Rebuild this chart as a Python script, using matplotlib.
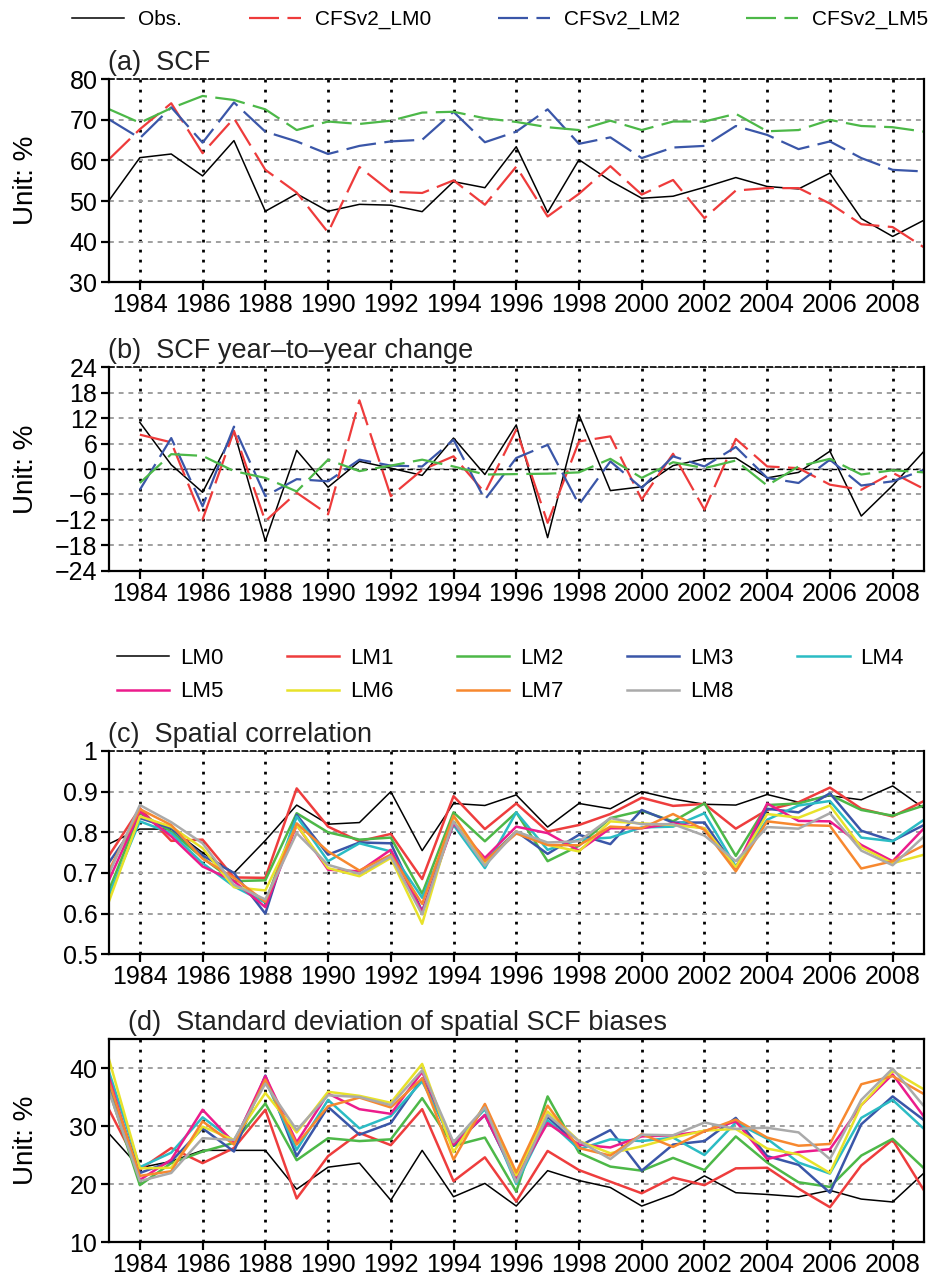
import numpy as np
import matplotlib
matplotlib.use("Agg")
import matplotlib.pyplot as plt

plt.rcParams['font.family'] = ['Liberation Sans', 'DejaVu Sans']

# ---- data ----
years = list(range(1983, 2010))
years_b = years[1:]

# (a) SCF (%)
scf_obs = [50.0, 60.7, 61.6, 56.2, 64.9, 47.5, 51.8, 47.5, 49.2, 49.0, 47.4, 54.8, 53.3, 63.4,
           47.2, 60.2, 55.0, 50.7, 51.2, 53.4, 55.8, 53.6, 53.0, 56.9, 45.7, 41.3, 45.3]
scf_lm0 = [60.2, 67.7, 74.1, 61.8, 70.4, 57.7, 52.1, 42.3, 58.4, 52.3, 52.0, 55.1, 49.1, 58.5,
           46.2, 51.8, 58.6, 51.6, 55.2, 45.8, 52.6, 53.2, 53.2, 49.4, 44.3, 43.6, 38.6]
scf_lm2 = [70.2, 65.5, 73.1, 64.4, 74.3, 67.1, 64.7, 61.6, 63.6, 64.7, 65.1, 72.0, 64.5, 67.1,
           72.6, 64.1, 65.7, 60.6, 63.2, 63.6, 68.5, 66.3, 62.8, 64.7, 60.6, 57.7, 57.3]
scf_lm5 = [72.7, 69.3, 72.9, 75.9, 74.9, 72.6, 67.5, 69.6, 69.0, 69.8, 71.8, 72.0, 70.4, 69.5,
           68.2, 67.5, 69.8, 67.5, 69.6, 69.6, 71.5, 67.2, 67.5, 70.0, 68.5, 68.2, 67.1]

# (b) year-to-year change (%), 1984-2009
chg_obs = [11.0, 1.0, -5.5, 8.9, -17.0, 4.4, -4.3, 1.8, 0.2, -1.5, 7.3, -1.3, 10.4,
           -16.2, 12.8, -5.1, -4.2, 0.8, 2.4, 2.6, -2.1, -0.8, 4.2, -11.1, -3.9, 4.2]
chg_lm0 = [8.1, 6.3, -11.9, 9.0, -12.3, -5.6, -10.7, 16.2, -6.4, -0.2, 3.0, -5.6, 9.3,
           -12.7, 6.5, 7.7, -7.2, 3.6, -9.6, 7.1, 0.6, 0.2, -3.7, -4.9, -0.9, -4.7]
chg_lm2 = [-4.9, 7.3, -8.8, 10.0, -6.4, -2.4, -2.9, 2.2, 0.8, 0.6, 6.9, -7.2, 2.6,
           5.7, -8.4, 1.8, -4.5, 3.0, 0.6, 5.2, -2.1, -3.3, 2.2, -3.9, -2.9, -0.2]
chg_lm5 = [-3.3, 3.5, 3.1, -0.5, -2.1, -5.3, 2.2, -0.5, 0.8, 2.2, 0.6, -1.3, -1.2,
           -1.1, -0.8, 2.4, -2.1, 1.6, 0.2, 2.0, -3.9, 0.6, 2.4, -1.3, -0.3, -0.8]

# (c) spatial correlation, LM0..LM8
lm_names = ['LM0', 'LM1', 'LM2', 'LM3', 'LM4', 'LM5', 'LM6', 'LM7', 'LM8']
lm_colors = ['black', '#ee3d3d', '#4db848', '#3a56a8', '#2bbcc4', '#ec1c8c', '#e8e22a', '#f7882f', '#aaaaaa']

corr = [
    [0.771, 0.808, 0.808, 0.750, 0.700, 0.780, 0.867, 0.820, 0.824, 0.900, 0.755, 0.871, 0.866, 0.892,
     0.813, 0.871, 0.858, 0.900, 0.882, 0.869, 0.867, 0.893, 0.874, 0.890, 0.880, 0.914, 0.859],
    [0.741, 0.859, 0.779, 0.782, 0.689, 0.688, 0.908, 0.814, 0.778, 0.796, 0.685, 0.889, 0.808, 0.871,
     0.802, 0.818, 0.845, 0.885, 0.865, 0.870, 0.809, 0.855, 0.874, 0.910, 0.858, 0.839, 0.877],
    [0.655, 0.847, 0.802, 0.737, 0.680, 0.682, 0.847, 0.800, 0.782, 0.787, 0.649, 0.849, 0.778, 0.849,
     0.729, 0.767, 0.835, 0.853, 0.827, 0.871, 0.742, 0.867, 0.871, 0.892, 0.855, 0.841, 0.866],
    [0.724, 0.835, 0.810, 0.743, 0.700, 0.600, 0.843, 0.745, 0.775, 0.773, 0.606, 0.825, 0.729, 0.802,
     0.747, 0.794, 0.771, 0.855, 0.824, 0.824, 0.712, 0.858, 0.849, 0.896, 0.804, 0.779, 0.818],
    [0.643, 0.827, 0.798, 0.724, 0.667, 0.627, 0.839, 0.729, 0.773, 0.753, 0.639, 0.818, 0.712, 0.849,
     0.757, 0.782, 0.787, 0.812, 0.814, 0.847, 0.716, 0.831, 0.866, 0.877, 0.787, 0.778, 0.831],
    [0.680, 0.851, 0.790, 0.716, 0.680, 0.616, 0.818, 0.708, 0.704, 0.757, 0.604, 0.822, 0.737, 0.814,
     0.798, 0.755, 0.810, 0.810, 0.822, 0.810, 0.712, 0.871, 0.828, 0.827, 0.769, 0.729, 0.810],
    [0.627, 0.839, 0.814, 0.761, 0.665, 0.657, 0.818, 0.712, 0.692, 0.737, 0.575, 0.839, 0.724, 0.802,
     0.769, 0.753, 0.827, 0.822, 0.818, 0.810, 0.714, 0.845, 0.836, 0.866, 0.763, 0.724, 0.745],
    [0.704, 0.857, 0.818, 0.735, 0.688, 0.629, 0.822, 0.753, 0.706, 0.745, 0.624, 0.841, 0.729, 0.797,
     0.769, 0.768, 0.814, 0.810, 0.845, 0.806, 0.704, 0.827, 0.818, 0.816, 0.711, 0.729, 0.768],
    [0.696, 0.867, 0.825, 0.773, 0.671, 0.635, 0.798, 0.720, 0.698, 0.741, 0.598, 0.827, 0.718, 0.802,
     0.775, 0.778, 0.835, 0.820, 0.820, 0.792, 0.729, 0.813, 0.809, 0.847, 0.755, 0.719, 0.790],
]

# (d) std of spatial SCF biases (%)
sdev = [
    [28.8, 22.8, 23.9, 25.8, 25.8, 25.8, 19.1, 22.9, 23.6, 17.2, 25.8, 17.8, 20.1, 16.2,
     22.3, 20.6, 19.4, 16.2, 18.2, 21.4, 18.5, 18.2, 17.8, 18.9, 17.4, 16.9, 21.9],
    [33.0, 22.5, 26.2, 23.6, 26.2, 32.8, 17.5, 24.8, 28.8, 26.7, 32.9, 20.5, 24.6, 17.0,
     25.7, 22.4, 20.4, 18.4, 21.1, 19.8, 22.7, 22.8, 19.2, 16.0, 23.2, 27.6, 18.9],
    [36.5, 19.8, 23.6, 25.6, 27.1, 33.9, 24.1, 27.9, 27.4, 27.7, 34.8, 26.6, 28.0, 18.7,
     35.1, 25.4, 23.0, 22.3, 24.5, 22.4, 28.2, 23.7, 20.3, 19.5, 24.9, 27.8, 22.7],
    [37.6, 21.9, 23.9, 29.6, 25.6, 38.7, 24.8, 33.3, 28.5, 30.5, 38.2, 26.6, 31.9, 20.8,
     31.6, 26.5, 29.3, 22.3, 26.8, 27.4, 31.4, 24.8, 23.3, 18.5, 30.3, 35.1, 31.0],
    [39.6, 22.9, 25.4, 31.5, 27.4, 37.9, 25.9, 34.5, 29.6, 31.7, 37.7, 27.1, 32.9, 20.0,
     31.0, 26.0, 27.7, 27.4, 28.0, 25.0, 30.6, 27.8, 23.7, 21.8, 31.4, 34.5, 29.5],
    [38.7, 20.7, 24.2, 32.8, 27.1, 38.6, 27.2, 35.6, 32.9, 32.1, 39.3, 26.8, 31.9, 21.1,
     30.5, 26.8, 26.3, 28.2, 28.4, 29.1, 30.8, 24.3, 25.5, 26.0, 33.6, 38.9, 31.6],
    [41.8, 22.7, 22.8, 29.9, 27.6, 35.7, 28.9, 35.9, 35.2, 34.0, 40.7, 25.5, 33.6, 21.5,
     32.5, 27.4, 25.3, 26.5, 28.0, 29.2, 29.5, 26.1, 25.1, 21.9, 33.6, 39.5, 36.3],
    [37.9, 21.4, 22.2, 30.8, 26.8, 38.0, 26.8, 33.4, 34.9, 33.2, 38.2, 24.2, 33.8, 22.0,
     33.5, 26.2, 24.9, 28.6, 26.4, 29.1, 31.1, 28.0, 26.6, 26.9, 37.2, 38.6, 35.5],
    [36.2, 20.5, 21.9, 27.9, 27.6, 37.3, 29.3, 35.3, 35.0, 33.6, 39.6, 27.2, 33.2, 20.3,
     31.9, 27.4, 24.3, 28.5, 28.4, 30.6, 29.5, 29.7, 28.9, 24.3, 34.5, 39.9, 33.4],
]

red, blue, green = '#ee3b3b', '#3a56a8', '#4cb848'
dash = (13.5, 3.8)

fig = plt.figure(figsize=(9.36, 12.78), dpi=100)
W, H = 936.0, 1278.0


def make_ax(top_px, bottom_px):
    left, right = 108.5, 924.0
    return fig.add_axes([left / W, 1 - bottom_px / H, (right - left) / W, (bottom_px - top_px) / H])


def style_ax(ax, yticks, ylim, ylabels=None, dashed_top=True):
    ax.set_xlim(1983, 2009)
    ax.set_ylim(*ylim)
    ax.set_xticks(range(1984, 2009, 2))
    ax.set_yticks(yticks)
    if ylabels is not None:
        ax.set_yticklabels(ylabels)
    ax.xaxis.grid(True, color='black', linestyle=(0, (1, 2.6)), linewidth=2.0)
    ax.yaxis.grid(True, color='#a0a0a0', linestyle=(0, (2.5, 2.5)), linewidth=1.4)
    ax.set_axisbelow(True)
    ax.tick_params(axis='both', labelsize=18, direction='out', length=6, width=1.6, pad=2)
    for s in ax.spines.values():
        s.set_linewidth(1.6)
    if dashed_top:
        ax.spines['top'].set_linestyle((0, (3, 2)))
        ax.spines['top'].set_linewidth(1.2)


def title(ax, txt, xoff=0.0):
    ax.text(xoff, 1.045, txt, transform=ax.transAxes, fontsize=19.5, ha='left', va='baseline',
            color='#222222')


def unit_label(ax):
    ax.set_ylabel('Unit: %', fontsize=20)
    ax.yaxis.set_label_coords(-0.085, 0.5)


# (a)
ax1 = make_ax(79.3, 282.3)
style_ax(ax1, [30, 40, 50, 60, 70, 80], (30, 80))
ax1.plot(years, scf_obs, color='black', lw=1.1, label='Obs.')
ax1.plot(years, scf_lm0, color=red, lw=1.6, dashes=dash, label='CFSv2_LM0')
ax1.plot(years, scf_lm2, color=blue, lw=1.6, dashes=dash, label='CFSv2_LM2')
ax1.plot(years, scf_lm5, color=green, lw=1.6, dashes=dash, label='CFSv2_LM5')
title(ax1, '(a)  SCF')
unit_label(ax1)

# (b)
ax2 = make_ax(367.3, 570.7)
style_ax(ax2, [-24, -18, -12, -6, 0, 6, 12, 18, 24], (-24, 24))
ax2.axhline(0, color='black', lw=1.0, linestyle=(0, (4, 2.5)), zorder=1.5)
ax2.plot(years_b, chg_obs, color='black', lw=1.1)
ax2.plot(years_b, chg_lm0, color=red, lw=1.6, dashes=dash)
ax2.plot(years_b, chg_lm2, color=blue, lw=1.6, dashes=dash)
ax2.plot(years_b, chg_lm5, color=green, lw=1.6, dashes=dash)
title(ax2, '(b)  SCF year\u2013to\u2013year change')
unit_label(ax2)

# (c)
ax3 = make_ax(751.0, 954.3)
style_ax(ax3, [0.5, 0.6, 0.7, 0.8, 0.9, 1.0], (0.5, 1.0),
         ylabels=['0.5', '0.6', '0.7', '0.8', '0.9', '1'])
lm_handles = []
for name, col, vals in zip(lm_names, lm_colors, corr):
    lw = 1.1 if name == 'LM0' else 1.8
    h, = ax3.plot(years, vals, color=col, lw=lw, label=name)
    lm_handles.append(h)
title(ax3, '(c)  Spatial correlation')

# (d)
ax4 = make_ax(1039.0, 1242.0)
style_ax(ax4, [10, 20, 30, 40], (10, 45), dashed_top=False)
for name, col, vals in zip(lm_names, lm_colors, sdev):
    lw = 1.1 if name == 'LM0' else 1.8
    ax4.plot(years, vals, color=col, lw=lw)
title(ax4, '(d)  Standard deviation of spatial SCF biases', xoff=0.024)
unit_label(ax4)

# legends
h1, l1 = ax1.get_legend_handles_labels()
fig.legend(h1, l1, loc='upper left', bbox_to_anchor=(72 / W, 1 - 10 / H), ncol=4, frameon=False,
           fontsize=15, handlelength=2.5, handletextpad=0.67, columnspacing=3.2,
           borderpad=0, borderaxespad=0)

order = [0, 5, 1, 6, 2, 7, 3, 8, 4]
fig.legend([lm_handles[i] for i in order], [lm_names[i] for i in order], loc='upper left',
           bbox_to_anchor=(117 / W, 1 - 648 / H), ncol=5, frameon=False, fontsize=16,
           handlelength=2.35, handletextpad=0.5, columnspacing=2.85, labelspacing=0.56,
           borderpad=0, borderaxespad=0)

fig.savefig('out.png', dpi=100)
